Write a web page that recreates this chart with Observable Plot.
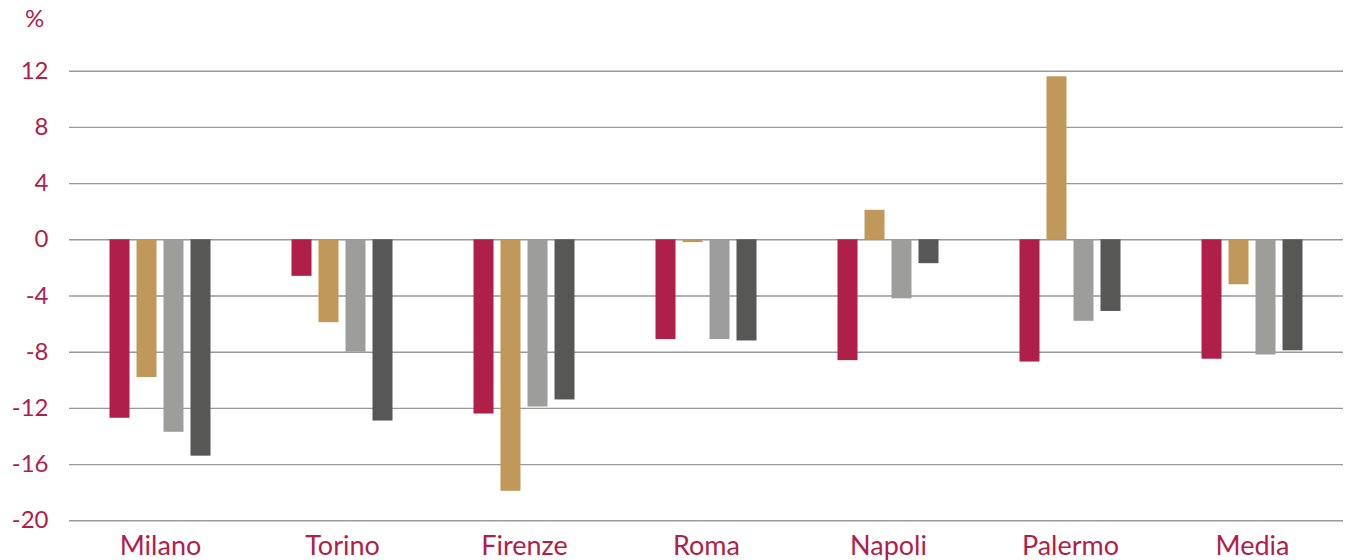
<!DOCTYPE html>
<html>
<head>
<meta charset="utf-8">
<script src="https://cdn.jsdelivr.net/npm/d3@7"></script>
<script src="https://cdn.jsdelivr.net/npm/@observablehq/plot@0.6"></script>
<style>
  body { margin: 0; background: #ffffff; }
  #chart { position: relative; width: 1347px; height: 560px; font-family: Lato, "Open Sans", sans-serif; }
  #unit { position: absolute; left: 25px; top: 6px; font-size: 24px; line-height: 24px; color: #b01e4a; }
  #chart svg { position: absolute; left: 0; top: 0; }
</style>
</head>
<body>
<div id="chart"><div id="unit">%</div></div>
<script>
// Categories (cities) and the four series of percentage changes
const cities = ["Milano", "Torino", "Firenze", "Roma", "Napoli", "Palermo", "Media"];
const seriesKeys = ["serie1", "serie2", "serie3", "serie4"];
const serie1 = [-12.7, -2.6, -12.4, -7.1, -8.6, -8.7, -8.5];
const serie2 = [-9.8, -5.9, -17.9, -0.2, 2.1, 11.6, -3.2];
const serie3 = [-13.7, -8.0, -11.9, -7.1, -4.2, -5.8, -8.2];
const serie4 = [-15.4, -12.9, -11.4, -7.2, -1.7, -5.1, -7.9];
const yTicks = [-20, -16, -12, -8, -4, 0, 4, 8, 12];

const palette = ["#b01e4a", "#c0995a", "#9d9d9c", "#575756"];
const crimson = "#b01e4a";

// Long table: one row per city and series
const seriesValues = [serie1, serie2, serie3, serie4];
const rows = [];
cities.forEach((city, i) => {
  seriesKeys.forEach((key, j) => {
    rows.push({ city, serie: key, value: seriesValues[j][i] });
  });
});

const chart = Plot.plot({
  width: 1347,
  height: 560,
  marginLeft: 67.5,
  marginRight: 2,
  marginTop: 70.7,
  marginBottom: 39.7,
  style: { fontFamily: "Lato, 'Open Sans', sans-serif", color: crimson, background: "transparent" },
  fx: { domain: cities, padding: 0, axis: null },
  x: { domain: seriesKeys, paddingInner: 0.256, paddingOuter: 1.47, axis: null },
  y: { domain: [-20, 12], axis: null, label: null },
  color: { domain: seriesKeys, range: palette },
  marks: [
    Plot.ruleY(yTicks, { stroke: "#999999", strokeWidth: 1.4 }),
    Plot.barY(rows, { fx: "city", x: "serie", y: "value", fill: "serie" }),
    Plot.axisY(yTicks, {
      tickSize: 0,
      tickPadding: 21,
      fontSize: 24,
      label: null,
      tickFormat: (d) => `${d}`
    }),
    Plot.axisFx({
      anchor: "bottom",
      tickSize: 0,
      tickPadding: 15,
      fontSize: 27,
      label: null
    })
  ]
});

document.getElementById("chart").appendChild(chart);
</script>
</body>
</html>
